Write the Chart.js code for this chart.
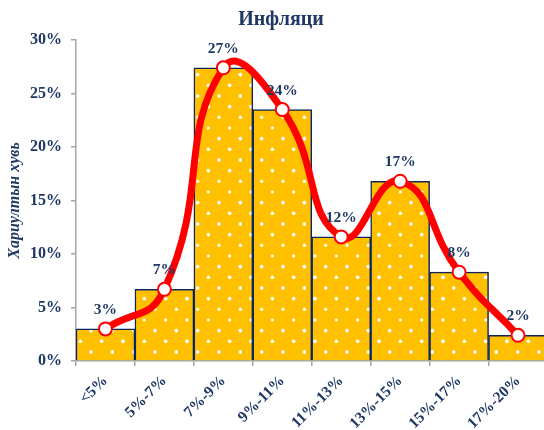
<!DOCTYPE html>
<html><head><meta charset="utf-8">
<script src="https://cdn.jsdelivr.net/npm/chart.js@4"></script>
<style>html,body{margin:0;padding:0;overflow:hidden;background:#fff}#wrap{width:556px;height:430px;position:relative}</style>
</head><body><div id="wrap"><canvas id="c"></canvas></div>
<script>
const titleText = 'Инфляци';
const yAxisTitle = 'Хариултын хувь';
const categories = ['<5%', '5%-7%', '7%-9%', '9%-11%', '11%-13%', '13%-15%', '15%-17%', '17%-20%'];
const shares = [3.0, 6.7, 27.4, 23.5, 11.6, 16.8, 8.3, 2.4];
const yTickValues = [0, 5, 10, 15, 20, 25, 30];

const NAVY = '#1F3864';
const GOLD = '#FFC000';
const RED = '#FF0000';
const AXIS = '#A6A6A6';
const SERIF = '"Liberation Serif", "Times New Roman", serif';

function makePattern() {
  const s = 64;
  const c = document.createElement('canvas');
  c.width = s; c.height = s;
  const g = c.getContext('2d');
  g.fillStyle = GOLD; g.fillRect(0, 0, s, s);
  const step = 64 / 3, half = step / 2;
  for (let j = -2; j < 8; j++) {
    for (let i = -2; i < 6; i++) {
      let x = 27 + i * step + ((j % 2 !== 0) ? half : 0);
      let y = 32 + j * half;
      for (const dx of [-64, 0, 64]) for (const dy of [-64, 0, 64]) {
        const px = x + dx, py = y + dy;
        if (px < -3 || px > s + 3 || py < -3 || py > s + 3) continue;
        g.fillStyle = 'rgba(255,255,255,0.4)';
        g.beginPath(); g.arc(px, py, 1.8, 0, Math.PI * 2); g.fill();
        g.fillStyle = '#FFFFFF';
        g.beginPath(); g.arc(px, py, 1.0, 0, Math.PI * 2); g.fill();
      }
    }
  }
  return c.getContext('2d').createPattern(c, 'repeat');
}

const titlePlugin = {
  id: 'manualTitle',
  afterDraw(chart) {
    const ctx = chart.ctx;
    ctx.save();
    ctx.font = 'bold 20px ' + SERIF;
    ctx.fillStyle = NAVY;
    ctx.textAlign = 'center';
    ctx.textBaseline = 'alphabetic';
    ctx.fillText(titleText, 281, 25);
    ctx.restore();
  }
};

const labelPlugin = {
  id: 'pointLabels',
  afterDatasetsDraw(chart) {
    const meta = chart.getDatasetMeta(1);
    const ctx = chart.ctx;
    ctx.save();
    ctx.font = 'bold 15.5px ' + SERIF;
    ctx.fillStyle = NAVY;
    ctx.textAlign = 'center';
    ctx.textBaseline = 'alphabetic';
    meta.data.forEach((pt, i) => {
      ctx.fillText(Math.round(shares[i]) + '%', pt.x, pt.y - 15);
    });
    ctx.restore();
  }
};

new Chart(document.getElementById('c'), {
  type: 'bar',
  data: {
    labels: categories,
    datasets: [
      {
        type: 'bar',
        data: shares,
        backgroundColor: makePattern(),
        borderColor: '#0B2560',
        borderWidth: 1.5,
        barPercentage: 1,
        categoryPercentage: 1,
        order: 1
      },
      {
        type: 'line',
        data: shares,
        borderColor: RED,
        borderWidth: 7,
        tension: 0.5,
        pointRadius: 6.5,
        pointBorderWidth: 2,
        pointBackgroundColor: '#FFFFFF',
        pointBorderColor: RED,
        clip: false,
        order: 0
      }
    ]
  },
  options: {
    responsive: true,
    maintainAspectRatio: false,
    animation: false,
    layout: { padding: { top: 40, right: 0, bottom: 0, left: 0 } },
    plugins: { legend: { display: false }, tooltip: { enabled: false }, title: { display: false } },
    scales: {
      x: {
        afterFit(scale) { scale.height = 69; },
        grid: { display: true, drawOnChartArea: false, drawTicks: true, tickLength: 5, color: AXIS, lineWidth: 1.5 },
        border: { display: true, color: AXIS, width: 1.5 },
        ticks: {
          autoSkip: false, maxRotation: 45, minRotation: 45, padding: 6,
          color: NAVY, font: { family: SERIF, size: 15.5, weight: 'bold' }
        }
      },
      y: {
        min: 0, max: 30,
        afterFit(scale) { scale.width = 76; },
        afterBuildTicks(scale) { scale.ticks = yTickValues.map(v => ({ value: v })); },
        grid: { display: true, drawOnChartArea: false, drawTicks: true, tickLength: 5, color: AXIS, lineWidth: 1.5 },
        border: { display: true, color: AXIS, width: 1.5 },
        ticks: {
          padding: 9,
          color: NAVY, font: { family: SERIF, size: 16, weight: 'bold' },
          callback: v => v + '%'
        },
        title: {
          display: true, text: yAxisTitle, color: NAVY, padding: { top: 5, bottom: 0 },
          font: { family: SERIF, size: 16, weight: 'bold', style: 'italic' }
        }
      }
    }
  },
  plugins: [titlePlugin, labelPlugin]
});
</script>
</body></html>
